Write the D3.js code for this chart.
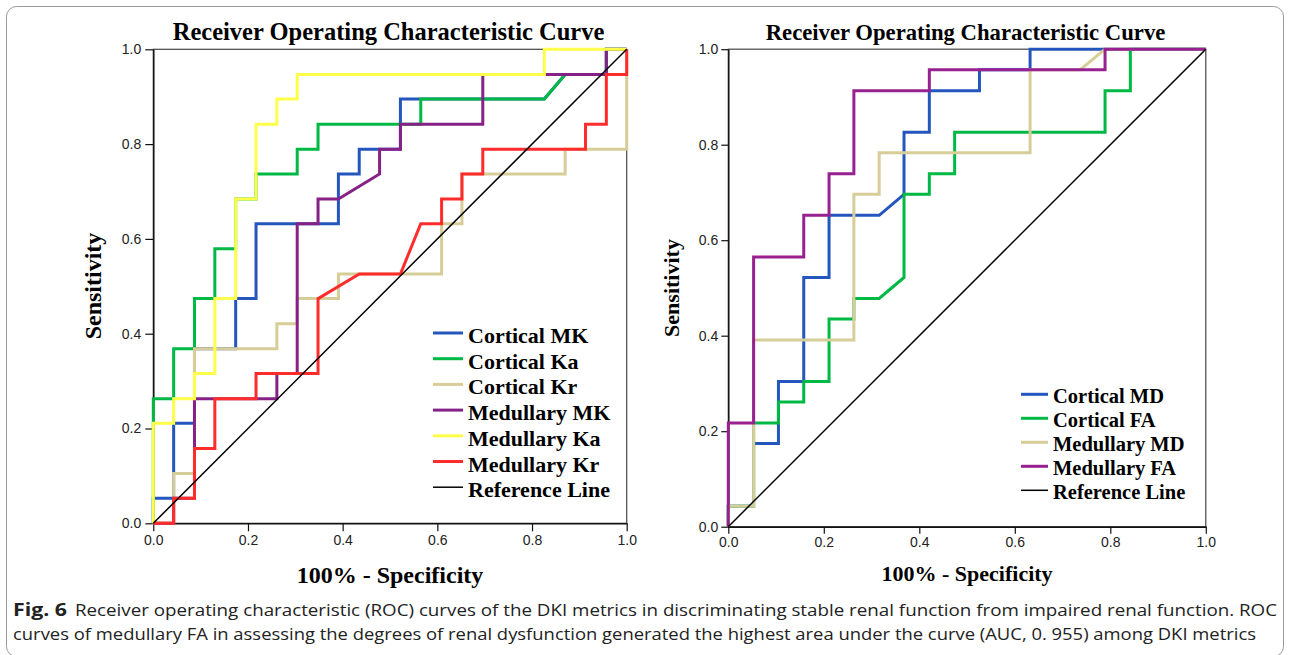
<!DOCTYPE html>
<html>
<head>
<meta charset="utf-8">
<script src="https://cdn.jsdelivr.net/npm/d3@7"></script>
<style>
  body { margin: 0; background: #fff; }
  svg { display: block; }
  .serif { font-family: "Liberation Serif", "Times New Roman", serif; font-weight: bold; fill: #000; }
  .caption { font-family: "Open Sans", "Noto Sans", sans-serif; font-size: 17px; fill: #222; }
</style>
</head>
<body>
<svg id="chart" width="1290" height="655"></svg>
<script>
// ROC figure -- two panels, DKI metrics (left) and DTI-style metrics (right)

var TICKS = [0, 0.2, 0.4, 0.6, 0.8, 1.0];
var TITLE = "Receiver Operating Characteristic Curve";
var X_LABEL = "100% - Specificity";
var Y_LABEL = "Sensitivity";
var REF_LABEL = "Reference Line";
var REF_LINE = [[0, 0], [1, 1]];

///////////////////////////////////////////////////////////////////////////////
// Left panel curves, [1 - specificity, sensitivity]

var LEFT_NAMES = ["Cortical MK", "Cortical Ka", "Cortical Kr", "Medullary MK", "Medullary Ka", "Medullary Kr"];

var cortMK = [[0,0],[0,0.053],[0.043,0.053],[0.043,0.211],[0.087,0.211],[0.087,0.368],[0.174,0.368],
  [0.174,0.474],[0.217,0.474],[0.217,0.632],[0.391,0.632],[0.391,0.737],[0.435,0.737],[0.435,0.789],
  [0.522,0.789],[0.522,0.895],[0.826,0.895],[0.870,0.947],[0.957,0.947],[0.957,1],[1,1]];

var cortKa = [[0,0],[0,0.263],[0.043,0.263],[0.043,0.368],[0.087,0.368],[0.087,0.474],[0.130,0.474],
  [0.130,0.579],[0.174,0.579],[0.174,0.684],[0.217,0.684],[0.217,0.737],[0.304,0.737],[0.304,0.789],
  [0.348,0.789],[0.348,0.842],[0.565,0.842],[0.565,0.895],[0.826,0.895],[0.870,0.947],[0.957,0.947],
  [0.957,1],[1,1]];

var cortKr = [[0,0],[0.043,0],[0.043,0.105],[0.087,0.105],[0.087,0.368],[0.261,0.368],[0.261,0.421],
  [0.304,0.421],[0.304,0.474],[0.391,0.474],[0.391,0.526],[0.609,0.526],[0.609,0.632],[0.652,0.632],
  [0.652,0.737],[0.870,0.737],[0.870,0.789],[1,0.789],[1,1]];

var medMK = [[0,0],[0.043,0],[0.043,0.053],[0.087,0.053],[0.087,0.263],[0.261,0.263],[0.261,0.316],
  [0.304,0.316],[0.304,0.632],[0.348,0.632],[0.348,0.684],[0.391,0.684],[0.478,0.737],[0.478,0.789],
  [0.522,0.789],[0.522,0.842],[0.696,0.842],[0.696,0.947],[0.957,0.947],[0.957,1],[1,1]];

var medKa = [[0,0],[0,0.211],[0.043,0.211],[0.043,0.263],[0.087,0.263],[0.087,0.316],[0.130,0.316],
  [0.130,0.474],[0.174,0.474],[0.174,0.684],[0.217,0.684],[0.217,0.842],[0.261,0.842],[0.261,0.895],
  [0.304,0.895],[0.304,0.947],[0.826,0.947],[0.826,1],[1,1]];

var medKr = [[0,0],[0.043,0],[0.043,0.053],[0.087,0.053],[0.087,0.158],[0.130,0.158],[0.130,0.263],
  [0.217,0.263],[0.217,0.316],[0.348,0.316],[0.348,0.474],[0.435,0.526],[0.522,0.526],[0.565,0.632],
  [0.609,0.632],[0.609,0.684],[0.652,0.684],[0.652,0.737],[0.696,0.737],[0.696,0.789],[0.913,0.789],
  [0.913,0.842],[0.957,0.842],[0.957,0.947],[1,0.947],[1,1]];

var LEFT_COLORS = ["#2456bd", "#00b844", "#d6cd98", "#862287", "#ffff4a", "#ff2c2c"];

///////////////////////////////////////////////////////////////////////////////
// Right panel curves

var RIGHT_NAMES = ["Cortical MD", "Cortical FA", "Medullary MD", "Medullary FA"];

var cortMD = [[0,0],[0,0.043],[0.053,0.043],[0.053,0.174],[0.105,0.174],[0.105,0.304],[0.158,0.304],
  [0.158,0.522],[0.211,0.522],[0.211,0.652],[0.316,0.652],[0.368,0.696],[0.368,0.826],[0.421,0.826],
  [0.421,0.913],[0.526,0.913],[0.526,0.957],[0.632,0.957],[0.632,1],[1,1]];

var cortFA = [[0,0],[0,0.043],[0.053,0.043],[0.053,0.217],[0.105,0.217],[0.105,0.261],[0.158,0.261],
  [0.158,0.304],[0.211,0.304],[0.211,0.435],[0.263,0.435],[0.263,0.478],[0.316,0.478],[0.368,0.522],
  [0.368,0.696],[0.421,0.696],[0.421,0.739],[0.474,0.739],[0.474,0.826],[0.789,0.826],[0.789,0.913],
  [0.842,0.913],[0.842,1],[1,1]];

var medMD = [[0,0],[0,0.043],[0.053,0.043],[0.053,0.391],[0.263,0.391],[0.263,0.696],[0.316,0.696],
  [0.316,0.783],[0.632,0.783],[0.632,0.957],[0.737,0.957],[0.789,1],[1,1]];

var medFA = [[0,0],[0,0.217],[0.053,0.217],[0.053,0.565],[0.158,0.565],[0.158,0.652],[0.211,0.652],
  [0.211,0.739],[0.263,0.739],[0.263,0.913],[0.421,0.913],[0.421,0.957],[0.789,0.957],[0.789,1],[1,1]];

var RIGHT_COLORS = ["#2456bd", "#00b844", "#d6cd98", "#972190"];

///////////////////////////////////////////////////////////////////////////////

var svg = d3.select("#chart");

// outer rounded frame of the figure
svg.append("rect")
  .attr("x", 6.5).attr("y", 6.5)
  .attr("width", 1277).attr("height", 650)
  .attr("rx", 10)
  .attr("fill", "none")
  .attr("stroke", "#9a9a9a");

var drawPanel = function (p)
{
  var x = d3.scaleLinear().domain([0, 1]).range([p.left, p.right]);
  var y = d3.scaleLinear().domain([0, 1]).range([p.bottom, p.top]);
  var g = svg.append("g");

  // plot border
  g.append("rect")
    .attr("x", p.left).attr("y", p.top)
    .attr("width", p.right - p.left).attr("height", p.bottom - p.top)
    .attr("fill", "none")
    .attr("stroke", "#444")
    .attr("stroke-width", 1.2);

  var fmt = d3.format(".1f");

  var xAxis = g.append("g")
    .attr("transform", "translate(0," + p.bottom + ")")
    .call(d3.axisBottom(x).tickValues(TICKS).tickFormat(fmt)
      .tickSize(p.tick).tickSizeOuter(0).tickPadding(p.pad));

  var yAxis = g.append("g")
    .attr("transform", "translate(" + p.left + ",0)")
    .call(d3.axisLeft(y).tickValues(TICKS).tickFormat(fmt)
      .tickSize(p.tick).tickSizeOuter(0).tickPadding(p.pad));

  [xAxis, yAxis].forEach(function (a) {
    a.attr("font-family", "'Liberation Sans', Arial, sans-serif").attr("font-size", 14);
    a.select(".domain").attr("stroke", "#111").attr("stroke-width", 1.5);
    a.selectAll(".tick line").attr("stroke", "#111").attr("stroke-width", 1.2);
    a.selectAll(".tick text").attr("fill", "#222");
  });

  // ROC curves, drawn in legend order
  var line = d3.line()
    .x(function (d) { return x(d[0]); })
    .y(function (d) { return y(d[1]); });

  p.series.forEach(function (s, i) {
    g.append("path")
      .datum(s)
      .attr("d", line)
      .attr("fill", "none")
      .attr("stroke", p.colors[i])
      .attr("stroke-width", 3)
      .attr("stroke-linejoin", "miter");
  });

  g.append("path")
    .datum(REF_LINE)
    .attr("d", line)
    .attr("fill", "none")
    .attr("stroke", "#000")
    .attr("stroke-width", 1.5);

  // titles
  g.append("text")
    .attr("class", "serif")
    .attr("x", p.titleX).attr("y", 40)
    .attr("text-anchor", "middle")
    .attr("font-size", p.titleSize)
    .text(TITLE);

  g.append("text")
    .attr("class", "serif")
    .attr("x", (p.left + p.right) / 2 + p.xLabelShift).attr("y", p.xLabelY)
    .attr("text-anchor", "middle")
    .attr("font-size", p.labelSize)
    .text(X_LABEL);

  g.append("text")
    .attr("class", "serif")
    .attr("transform", "translate(" + p.yLabelX + "," + p.yLabelY + ") rotate(-90)")
    .attr("text-anchor", "middle")
    .attr("font-size", p.labelSize)
    .text(Y_LABEL);

  // legend
  var names = p.names.concat([REF_LABEL]);
  var colors = p.colors.concat(["#000"]);
  names.forEach(function (name, i) {
    var ly = p.legY + i * p.legStep;
    g.append("line")
      .attr("x1", p.legX).attr("x2", p.legX + p.legLen)
      .attr("y1", ly).attr("y2", ly)
      .attr("stroke", colors[i])
      .attr("stroke-width", i < p.names.length ? 3 : 1.5);
    g.append("text")
      .attr("class", "serif")
      .attr("x", p.legX + p.legLen + 5).attr("y", ly + p.legDy)
      .attr("font-size", p.legSize)
      .text(name);
  });
};

drawPanel({
  left: 153.3, right: 626.7, top: 49.3, bottom: 523.3,
  tick: 8, pad: 4,
  series: [cortMK, cortKa, cortKr, medMK, medKa, medKr],
  names: LEFT_NAMES, colors: LEFT_COLORS,
  titleX: 388.5, titleSize: 24.5,
  labelSize: 24, xLabelShift: 0, xLabelY: 583,
  yLabelX: 101, yLabelY: 286,
  legX: 433, legLen: 30, legY: 333, legStep: 25.7, legDy: 10, legSize: 22
});

drawPanel({
  left: 728.3, right: 1205.8, top: 49.2, bottom: 526.7,
  tick: 7, pad: 3,
  series: [cortMD, cortFA, medMD, medFA],
  names: RIGHT_NAMES, colors: RIGHT_COLORS,
  titleX: 965.5, titleSize: 22.7,
  labelSize: 22, xLabelShift: 0, xLabelY: 581,
  yLabelX: 679, yLabelY: 288,
  legX: 1021, legLen: 27, legY: 394.3, legStep: 24, legDy: 9, legSize: 20.5
});

///////////////////////////////////////////////////////////////////////////////
// Caption

var CAPTION_1 = "Receiver operating characteristic (ROC) curves of the DKI metrics in discriminating stable renal function from impaired renal function. ROC";
var CAPTION_2 = "curves of medullary FA in assessing the degrees of renal dysfunction generated the highest area under the curve (AUC, 0. 955) among DKI metrics";

svg.append("text")
  .attr("class", "caption")
  .attr("x", 13).attr("y", 616)
  .attr("font-weight", "bold")
  .attr("textLength", 54)
  .attr("lengthAdjust", "spacingAndGlyphs")
  .text("Fig. 6");

svg.append("text")
  .attr("class", "caption")
  .attr("x", 75).attr("y", 616)
  .attr("textLength", 1202)
  .attr("lengthAdjust", "spacingAndGlyphs")
  .text(CAPTION_1);

svg.append("text")
  .attr("class", "caption")
  .attr("x", 13).attr("y", 640)
  .attr("textLength", 1243)
  .attr("lengthAdjust", "spacingAndGlyphs")
  .text(CAPTION_2);
</script>
</body>
</html>
